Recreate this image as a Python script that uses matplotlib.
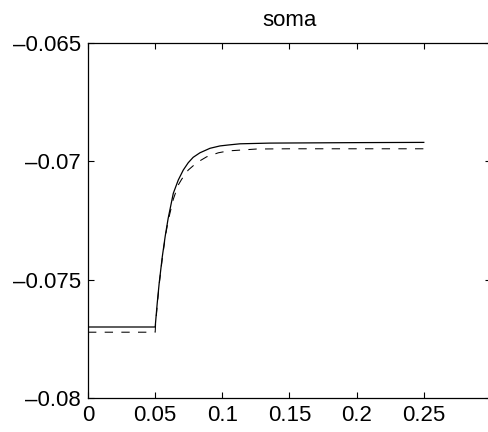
import numpy as np
import matplotlib
matplotlib.use("Agg")
import matplotlib.pyplot as plt

plt.rcParams['font.family'] = ['Liberation Sans', 'DejaVu Sans']

# soma voltage (time in s, volts)
t_solid = [0, 0.05, 0.0503, 0.0515, 0.053, 0.0553, 0.0575, 0.0597, 0.0635,
           0.0672, 0.0709, 0.0746, 0.0783, 0.0833, 0.0908, 0.0982, 0.1044,
           0.1131, 0.1354, 0.2, 0.25]
v_solid = [-0.07700, -0.07700, -0.07680, -0.07601, -0.07514, -0.07403, -0.07315,
           -0.07240, -0.07135, -0.07079, -0.07037, -0.07006, -0.06983, -0.06964,
           -0.06945, -0.06935, -0.06931, -0.06926, -0.06923, -0.06921, -0.06920]

t_dash = [0, 0.05, 0.0503, 0.0515, 0.053, 0.0553, 0.0575, 0.0597, 0.0635,
          0.0672, 0.0697, 0.0746, 0.0809, 0.0883, 0.097, 0.1044, 0.1255,
          0.15, 0.2, 0.25]
v_dash = [-0.07722, -0.07722, -0.07690, -0.07610, -0.07520, -0.07410, -0.07320,
          -0.07250, -0.07160, -0.07100, -0.07076, -0.07037, -0.07006, -0.06981,
          -0.06964, -0.06956, -0.06948, -0.06947, -0.06947, -0.06947]

xticks = [0, 0.05, 0.1, 0.15, 0.2, 0.25]
xlabels = ['0', '0.05', '0.1', '0.15', '0.2', '0.25']
yticks = [-0.08, -0.075, -0.07, -0.065]
ylabels = ['\u20130.08', '\u20130.075', '\u20130.07', '\u20130.065']

fig = plt.figure(figsize=(4.89, 4.32), dpi=100)
ax = fig.add_axes([0.18, 0.0787, 0.824, 0.8218])

ax.plot(t_solid, v_solid, color='black', linewidth=0.9)
ax.plot(t_dash, v_dash, color='black', linewidth=0.75, dashes=(8, 8))

ax.set_xlim(0, 0.3)
ax.set_ylim(-0.08, -0.065)
ax.set_xticks(xticks)
ax.set_xticklabels(xlabels)
ax.set_yticks(yticks)
ax.set_yticklabels(ylabels)
ax.tick_params(direction='in', length=4, width=0.8, top=True, right=True,
               labelsize=16, pad=5)
for s in ax.spines.values():
    s.set_linewidth(0.9)

ax.set_title('soma', fontsize=16, pad=12)

fig.savefig('out.png', dpi=100)
